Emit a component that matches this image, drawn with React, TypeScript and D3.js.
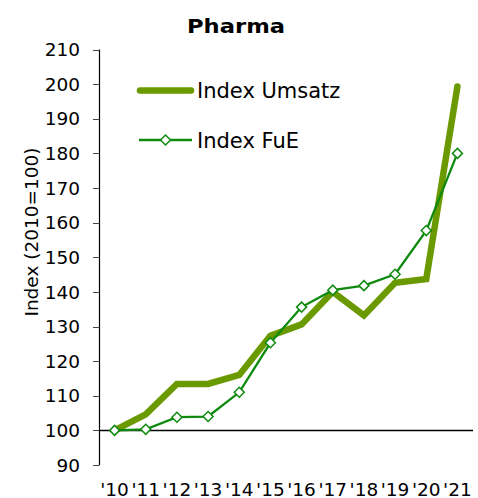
import React from "react";
import * as d3 from "d3";

const categories = ["'10", "'11", "'12", "'13", "'14", "'15", "'16", "'17", "'18", "'19", "'20", "'21"];
const umsatz = [100, 104.6, 113.4, 113.4, 116, 127.3, 130.6, 140, 133.2, 142.6, 143.7, 199.3];
const fue = [100, 100.3, 103.8, 104, 111, 125.3, 135.6, 140.5, 141.8, 145.1, 157.7, 180];
const yTicks = [90, 100, 110, 120, 130, 140, 150, 160, 170, 180, 190, 200, 210];

const W = 478;
const H = 498;
const FONT = "'DejaVu Sans', Verdana, sans-serif";
const C_UMSATZ = "#6a9a00";
const C_FUE = "#0f8a0f";

export default function App() {
  const x = d3.scaleBand<string>().domain(categories).range([99, 473]);
  const y = d3.scaleLinear().domain([90, 210]).range([465, 49.5]);
  const cx = (c: string) => (x(c) as number) + x.bandwidth() / 2;

  const line = d3
    .line<number>()
    .x((_, i) => cx(categories[i]))
    .y((d) => y(d));

  const diamond = (px: number, py: number, r = 5) =>
    `M${px},${py - r}L${px + r},${py}L${px},${py + r}L${px - r},${py}Z`;

  const axisX = 99.5;

  return (
    <svg
      width={W}
      height={H}
      style={{ position: "absolute", left: 0, top: 0, background: "#fff" }}
      fontFamily={FONT}
    >
      <rect width={W} height={H} fill="#fff" />
      {/* title */}
      <text
        x={187}
        y={33}
        fontSize={20}
        fontWeight="bold"
        textLength={98}
        lengthAdjust="spacingAndGlyphs"
        fill="#000"
      >
        Pharma
      </text>

      {/* y axis */}
      <line x1={axisX} x2={axisX} y1={y(210)} y2={y(90)} stroke="#000" strokeWidth={1.2} />
      {yTicks.map((t) => (
        <g key={t}>
          <line x1={93} x2={axisX} y1={Math.round(y(t)) + 0.5} y2={Math.round(y(t)) + 0.5} stroke="#444" strokeWidth={1} />
          <text x={80} y={y(t)} dy="0.36em" textAnchor="end" fontSize={18.5} fill="#000">
            {t}
          </text>
        </g>
      ))}
      <text
        transform={`translate(31,${232}) rotate(-90)`}
        textAnchor="middle"
        dy="0.36em"
        fontSize={18.5}
        fill="#000"
      >
        Index (2010=100)
      </text>

      {/* baseline at 100 */}
      <line x1={axisX} x2={473} y1={y(100)} y2={y(100)} stroke="#000" strokeWidth={1.5} />

      {/* x labels */}
      {categories.map((c) => (
        <text key={c} x={cx(c)} y={495.5} textAnchor="middle" fontSize={18.5} fill="#000">
          {c}
        </text>
      ))}

      {/* series */}
      <path
        d={line(umsatz) as string}
        fill="none"
        stroke={C_UMSATZ}
        strokeWidth={6.5}
        strokeLinejoin="miter"
        strokeLinecap="round"
      />
      <path d={line(fue) as string} fill="none" stroke={C_FUE} strokeWidth={2.3} />
      {fue.map((v, i) => (
        <path
          key={i}
          d={diamond(cx(categories[i]), y(v))}
          fill="#fff"
          stroke={C_FUE}
          strokeWidth={1.5}
        />
      ))}

      {/* legend */}
      <line x1={140} x2={191} y1={90.5} y2={90.5} stroke={C_UMSATZ} strokeWidth={6.5} strokeLinecap="round" />
      <text x={197} y={90.5} dy="0.36em" fontSize={21} fill="#000">
        Index Umsatz
      </text>
      <line x1={139} x2={192} y1={140} y2={140} stroke={C_FUE} strokeWidth={2.3} />
      <path d={diamond(165.5, 140)} fill="#fff" stroke={C_FUE} strokeWidth={1.5} />
      <text x={197} y={140} dy="0.36em" fontSize={21} fill="#000">
        Index FuE
      </text>
    </svg>
  );
}
